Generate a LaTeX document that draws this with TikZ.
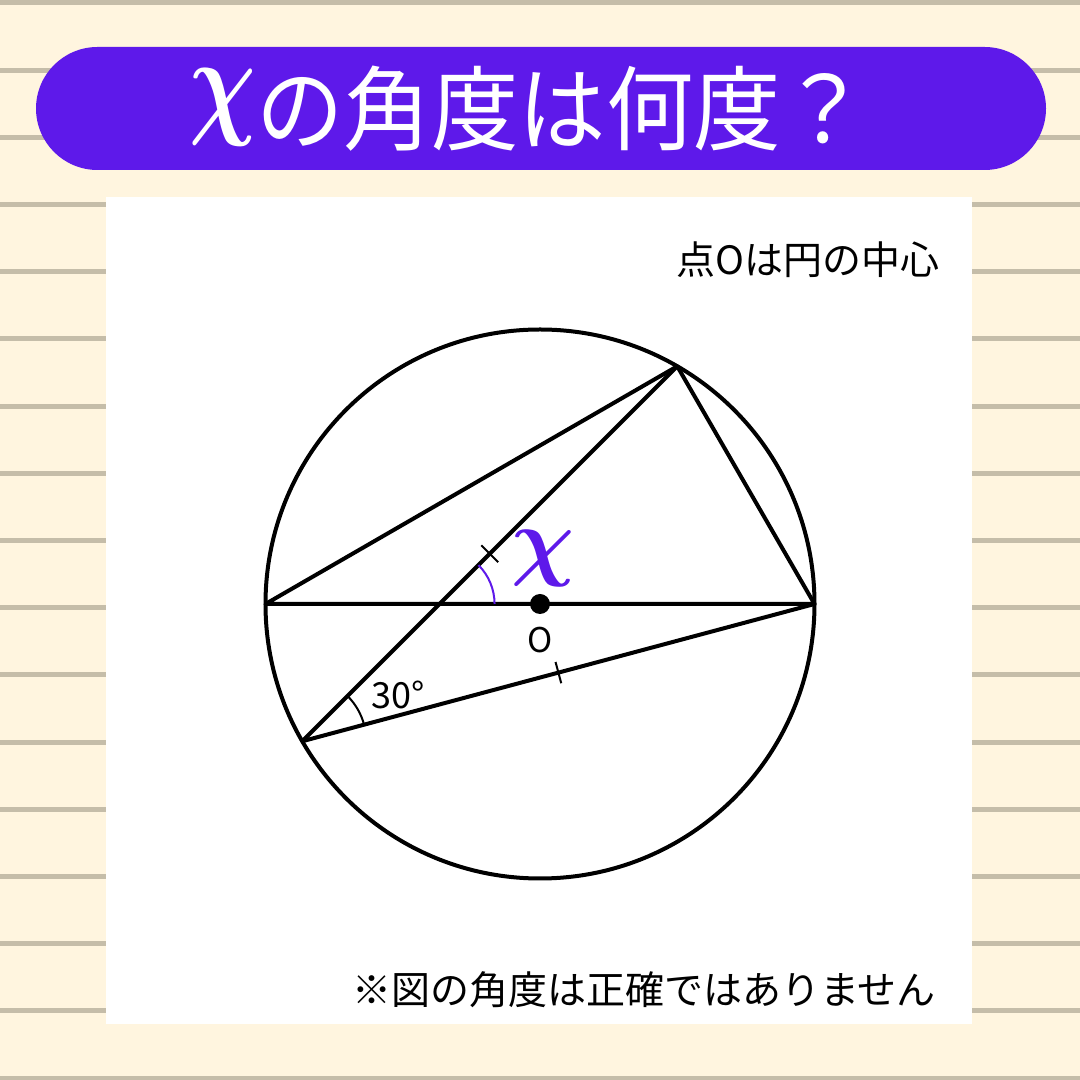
\documentclass[tikz,border=0pt]{standalone}
\usepackage{graphicx}
\usepackage{fontspec}
\setmainfont{Noto Sans CJK JP}
\usetikzlibrary{calc}
\definecolor{bgcream}{HTML}{FFF5DF}
\definecolor{rulegray}{HTML}{C5BDA9}
\definecolor{titlepurple}{HTML}{5E19EA}
\newcommand{\bigchi}[1]{\scalebox{#1}{\fontsize{10}{10}\selectfont\boldmath$\chi$}}
\begin{document}
\begin{tikzpicture}[x=1pt,y=1pt,
  geo/.style={line width=4pt, black, line join=round},
  tickmark/.style={line width=2pt, black},
  anglearc/.style={line width=2pt},
  note/.style={inner sep=0pt, font=\fontsize{39}{39}\selectfont},
  lbl/.style={inner sep=0pt}]
\useasboundingbox (0,0) rectangle (1080,1080);
\fill[bgcream] (0,0) rectangle (1080,1080);
\foreach \k in {0,...,16} {
  \fill[rulegray] (0,{1077-67.2*\k-2.5}) rectangle (1080,{1077-67.2*\k+2.5});
}
\fill[white] (106,56) rectangle (972,883);
\fill[titlepurple, rounded corners=61.5pt] (36,910) rectangle (1046,1033);
\node[lbl, text=white] (title) at (529,971.5)
  {\scalebox{0.95}[1]{\fontsize{92}{92}\selectfont\raisebox{21pt}{\scalebox{0.85}[1.05]{\bigchi{11.5}}}の角度は何度？}};
% geometry
\def\R{274.5}
\coordinate (O) at (540,476);
\coordinate (A) at ($(O)+(180:\R)$);
\coordinate (B) at ($(O)+(0:\R)$);
\coordinate (C) at ($(O)+(60:\R)$);
\coordinate (D) at ($(O)+(210:\R)$);
\coordinate (E) at (intersection of D--C and A--B);
\draw[geo] (O) circle (\R);
\draw[geo] (A) -- (C) -- (B) -- cycle;
\draw[geo] (D) -- (C);
\draw[geo] (D) -- (B);
% tick marks
\coordinate (M1) at ($(D)!0.5!(C)$);
\coordinate (M2) at ($(D)!0.5!(B)$);
\draw[tickmark] ($(M1)!12pt!90:(C)$) -- ($(M1)!12pt!-90:(C)$);
\draw[tickmark] ($(M2)!11pt!90:(B)$) -- ($(M2)!11pt!-90:(B)$);
% angle arcs
\draw[anglearc, titlepurple] ($(E)+(0:55)$) arc[start angle=0, end angle=45, radius=55];
\draw[anglearc, black] ($(D)+(15:64)$) arc[start angle=15, end angle=45, radius=64];
% centre dot and labels
\fill[black] (O) circle (10);
\node[lbl, font=\fontsize{34}{34}\selectfont] (olabel) at (540,440) {O};
\node[lbl, text=titlepurple] (xlabel) at (543.5,521) {\bigchi{8.8}};
\node[lbl, font=\fontsize{36}{36}\selectfont] (thirty) at (398,385) {30°};
\node[note] (topnote) at (808,820) {点Oは円の中心};
\node[note] (bottomnote) at (644,90) {※図の角度は正確ではありません};
\end{tikzpicture}
\end{document}
